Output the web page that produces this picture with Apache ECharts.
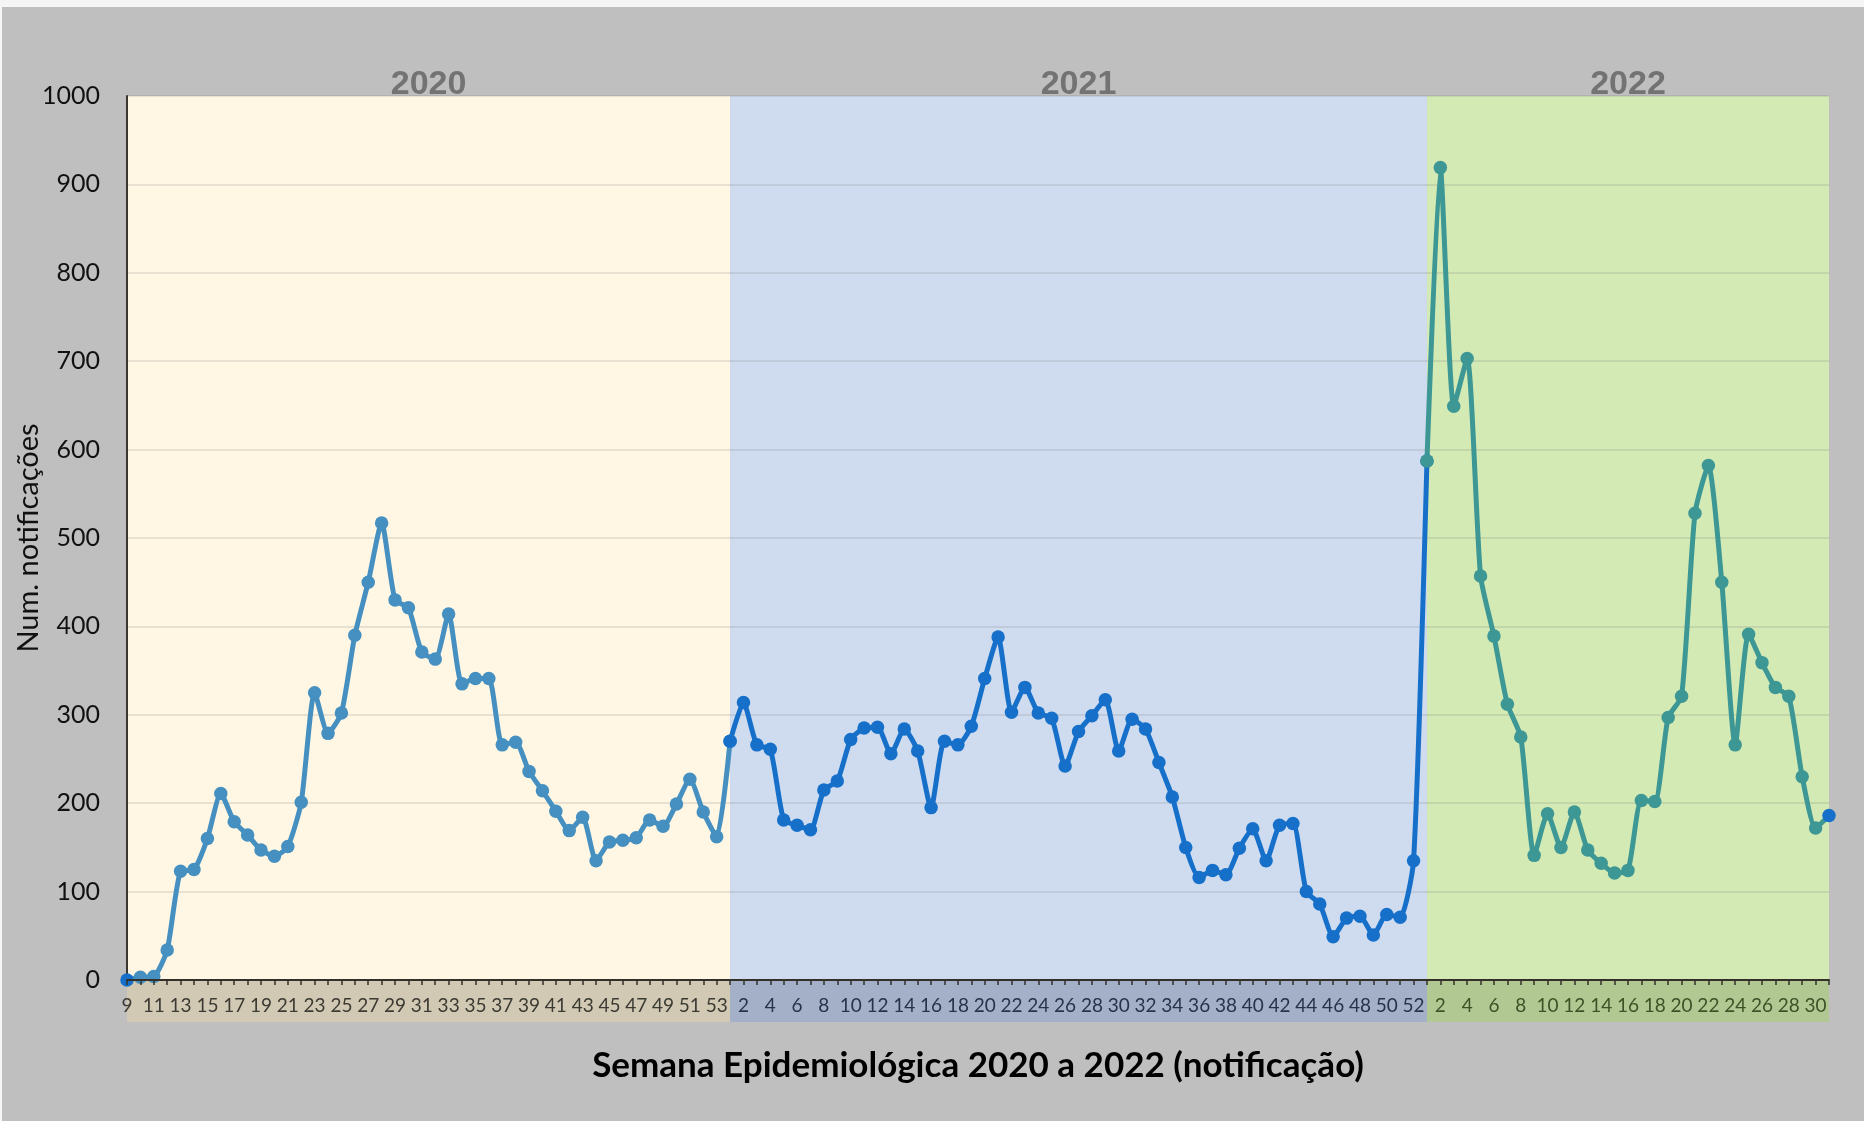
<!DOCTYPE html>
<html>
<head>
<meta charset="utf-8">
<title>Notificações por semana epidemiológica</title>
<script src="https://cdn.jsdelivr.net/npm/echarts@6/dist/echarts.min.js"></script>
<style>
    html, body { margin: 0; padding: 0; background: #f5f5f5; }
    #main { position: absolute; left: 2px; top: 7px; width: 1862px; height: 1114px; }
</style>
</head>
<body>
<div id="main"></div>
<script>
    // semanas epidemiológicas de cada ano
    var weeks2020 = [9, 10, 11, 12, 13, 14, 15, 16, 17, 18, 19, 20, 21, 22, 23, 24, 25, 26, 27, 28, 29, 30, 31,
        32, 33, 34, 35, 36, 37, 38, 39, 40, 41, 42, 43, 44, 45, 46, 47, 48, 49, 50, 51, 52, 53];
    var weeks2021 = [1, 2, 3, 4, 5, 6, 7, 8, 9, 10, 11, 12, 13, 14, 15, 16, 17, 18, 19, 20, 21, 22, 23, 24, 25, 26,
        27, 28, 29, 30, 31, 32, 33, 34, 35, 36, 37, 38, 39, 40, 41, 42, 43, 44, 45, 46, 47, 48, 49, 50, 51, 52];
    var weeks2022 = [1, 2, 3, 4, 5, 6, 7, 8, 9, 10, 11, 12, 13, 14, 15, 16, 17, 18, 19, 20, 21, 22, 23, 24, 25, 26,
        27, 28, 29, 30, 31];

    // número de notificações por semana
    var cases2020 = [0, 3, 4, 34, 123, 125, 160, 211, 179, 164, 147, 140, 151, 201, 325, 279, 302, 390, 450, 517,
        430, 421, 371, 363, 414, 335, 341, 341, 266, 269, 236, 214, 191, 169, 184, 135, 156, 158, 161, 181,
        174, 199, 227, 190, 162];
    var cases2021 = [270, 314, 266, 261, 181, 175, 170, 215, 225, 272, 285, 286, 256, 284, 259, 195, 270, 266, 287,
        341, 388, 303, 331, 302, 296, 242, 281, 299, 317, 259, 295, 284, 246, 207, 150, 116, 124, 119, 149,
        171, 135, 175, 177, 100, 86, 49, 70, 72, 51, 74, 71, 135];
    var cases2022 = [587, 919, 649, 703, 457, 389, 312, 275, 141, 188, 150, 190, 147, 132, 121, 124, 203, 202, 297,
        321, 528, 582, 450, 266, 391, 359, 331, 321, 230, 172, 186];

    var years = ['2020', '2021', '2022'];
    var bandColors = ['#FFF7E4', '#CFDCEF', '#D4EAB5'];
    var stripColors = ['#D1C9B3', '#A3B0C8', '#B1C892'];
    var labelColors = ['#3b3a33', '#28324a', '#3c5227'];
    var lineColors = ['#4590C0', '#1670CA', '#3D9794'];

    var categories = [];
    weeks2020.forEach(function (w) { categories.push('2020-' + w); });
    weeks2021.forEach(function (w) { categories.push('2021-' + w); });
    weeks2022.forEach(function (w) { categories.push('2022-' + w); });

    var start2021 = weeks2020.length;
    var start2022 = start2021 + weeks2021.length;

    // cada ano é uma série, ligada ao primeiro ponto do ano seguinte
    var line2020 = categories.map(function (c, i) {
        if (i < start2021) return cases2020[i];
        if (i === start2021) return cases2021[0];
        return null;
    });
    var line2021 = categories.map(function (c, i) {
        if (i >= start2021 && i < start2022) return cases2021[i - start2021];
        if (i === start2022) return cases2022[0];
        return null;
    });
    var line2022 = categories.map(function (c, i) {
        return i >= start2022 ? cases2022[i - start2022] : null;
    });
    line2020[0] = {value: line2020[0], itemStyle: {color: lineColors[1]}};
    var last = categories.length - 1;
    line2022[last] = {value: line2022[last], itemStyle: {color: lineColors[1]}};

    function lineSeries(name, data, color) {
        return {
            name: name,
            type: 'line',
            data: data,
            z: 2,
            smooth: 0.2,
            symbol: 'circle',
            symbolSize: 13.5,
            showAllSymbol: true,
            connectNulls: false,
            lineStyle: {color: color, width: 5},
            itemStyle: {color: color}
        };
    }

    var chart = echarts.init(document.getElementById('main'));
    var option = {
        backgroundColor: '#BFBFBF',
        animation: false,
        textStyle: {fontFamily: 'Lato'},
        grid: {left: 125, right: 35, top: 89, bottom: 141, containLabel: false, outerBoundsMode: 'none'},
        xAxis: {
            type: 'category',
            data: categories,
            boundaryGap: false,
            z: 3,
            name: 'Semana Epidemiológica 2020 a 2022 (notificação)',
            nameLocation: 'middle',
            nameGap: 68,
            nameMoveOverlap: false,
            nameTextStyle: {fontSize: 35, fontWeight: 'bold', color: '#000', fontFamily: 'Lato'},
            axisLine: {lineStyle: {color: '#33302a', width: 2}},
            axisTick: {show: true, interval: 0, length: 5, lineStyle: {color: '#33302a', width: 1.5}},
            axisLabel: {
                interval: 1,
                margin: 16,
                fontSize: 19,
                formatter: function (v) { return v.split('-')[1]; },
                color: function (v) { return labelColors[years.indexOf(String(v).slice(0, 4))]; }
            },
            splitLine: {show: false}
        },
        yAxis: {
            type: 'value',
            min: 0,
            max: 1000,
            interval: 100,
            z: 1,
            name: 'Num. notificações',
            nameLocation: 'middle',
            nameGap: 84,
            nameMoveOverlap: false,
            nameTextStyle: {fontSize: 29, color: '#111'},
            axisLine: {show: true, lineStyle: {color: '#3a3630', width: 2}},
            axisTick: {show: false},
            axisLabel: {fontSize: 25, color: '#111', margin: 27, formatter: function (v) { return String(v); }},
            splitLine: {lineStyle: {color: 'rgba(100,100,100,0.2)', width: 1.5}}
        },
        series: [
            {
                name: 'anos',
                type: 'line',
                data: [],
                z: 0,
                markArea: {
                    silent: true,
                    z: 0,
                    label: {
                        position: 'top',
                        distance: -6,
                        fontSize: 34,
                        fontWeight: 'bold',
                        color: '#737373',
                        fontFamily: 'Liberation Sans'
                    },
                    data: [
                        [{name: years[0], xAxis: categories[0], itemStyle: {color: bandColors[0]}}, {xAxis: categories[start2021]}],
                        [{name: years[1], xAxis: categories[start2021], itemStyle: {color: bandColors[1]}}, {xAxis: categories[start2022]}],
                        [{name: years[2], xAxis: categories[start2022], itemStyle: {color: bandColors[2]}}, {xAxis: categories[last]}]
                    ]
                }
            },
            lineSeries('2020', line2020, lineColors[0]),
            lineSeries('2021', line2021, lineColors[1]),
            lineSeries('2022', line2022, lineColors[2])
        ]
    };
    chart.setOption(option);

    // faixa colorida por trás dos rótulos do eixo x
    var yBase = chart.convertToPixel({yAxisIndex: 0}, 0);
    var edges = [0, start2021, start2022, last].map(function (i) {
        return chart.convertToPixel({xAxisIndex: 0}, categories[i]);
    });
    chart.setOption({
        graphic: years.map(function (y, k) {
            return {
                type: 'rect',
                z: 1,
                silent: true,
                shape: {x: edges[k], y: yBase + 1, width: edges[k + 1] - edges[k], height: 41},
                style: {fill: stripColors[k]}
            };
        })
    });
</script>
</body>
</html>
